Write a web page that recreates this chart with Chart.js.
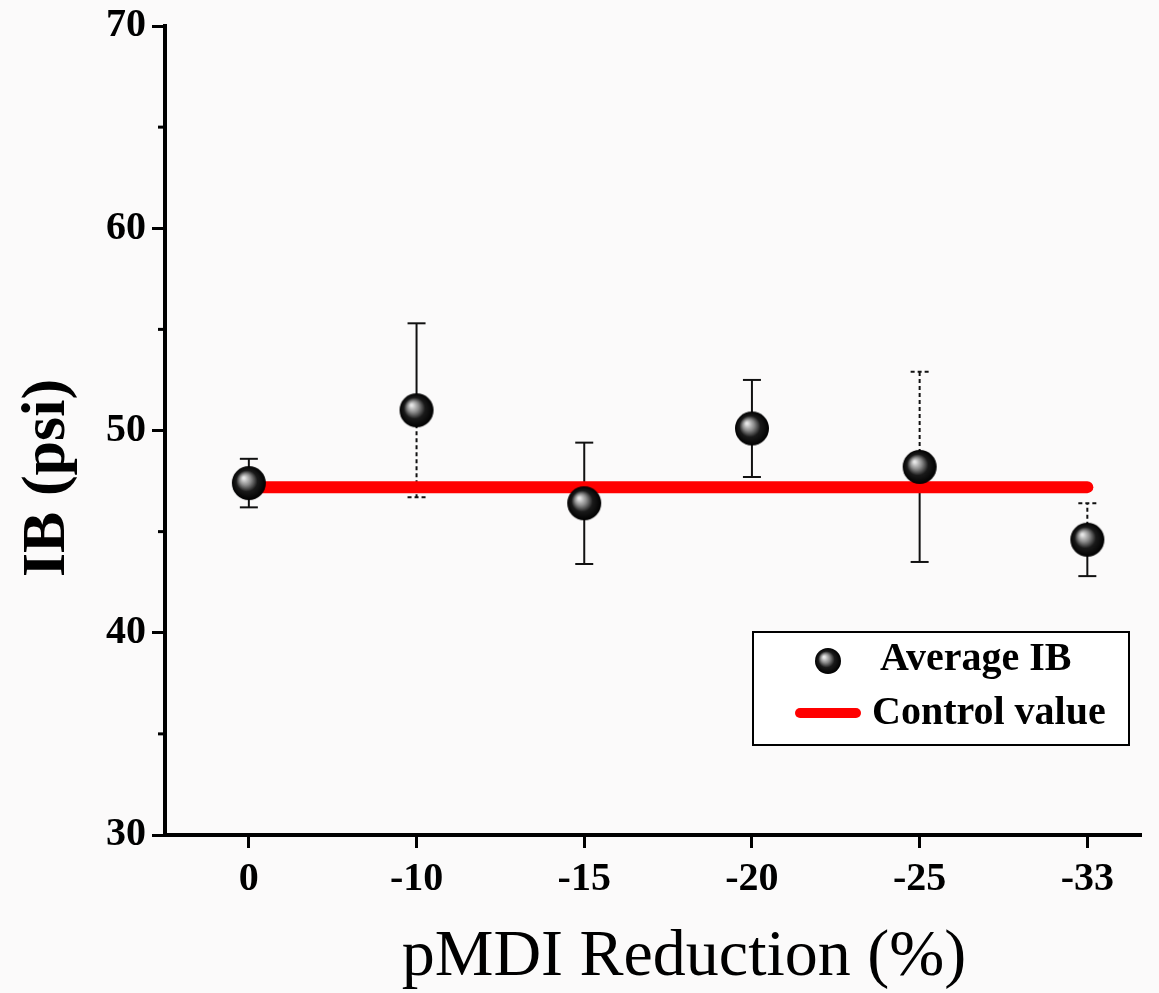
<!DOCTYPE html>
<html>
<head>
<meta charset="utf-8">
<script src="https://cdn.jsdelivr.net/npm/chart.js@4.4.0/dist/chart.umd.min.js"></script>
<style>
    html, body { margin: 0; padding: 0; background: #fbfafa; }
    #wrap { width: 1159px; height: 993px; position: relative; }
</style>
</head>
<body>
<div id="wrap"><canvas id="ibChart"></canvas></div>
<script>
// ==================== dati ====================
const categories = ['0', '-10', '-15', '-20', '-25', '-33'];
const averageIB = [47.4, 51.0, 46.4, 50.1, 48.2, 44.6];
const errorIB = [1.2, 4.3, 3.0, 2.4, 4.7, 1.8];
const controlValue = 47.2;
const yTickLabels = [30, 40, 50, 60, 70];
const xTitle = 'pMDI Reduction (%)';
const yTitle = 'IB (psi)';

// stile: lato della barra d'errore tratteggiato (come nell'originale)
const dashedSide = ['', 'down', '', '', 'up', 'up'];

const serif = "'Liberation Serif', 'DejaVu Serif', serif";

// marker sferico nero con riflesso
function makeBall(r) {
    const c = document.createElement('canvas');
    c.width = c.height = r * 2 + 2;
    const g = c.getContext('2d');
    const cx = r + 1, cy = r + 1;
    const grad = g.createRadialGradient(cx - r * 0.3, cy - r * 0.3, 1, cx, cy, r);
    grad.addColorStop(0, '#e6e6e6');
    grad.addColorStop(0.3, '#8a8a8a');
    grad.addColorStop(0.6, '#1a1a1a');
    grad.addColorStop(1, '#000000');
    g.fillStyle = grad;
    g.beginPath();
    g.arc(cx, cy, r, 0, Math.PI * 2);
    g.fill();
    return c;
}
const ball = makeBall(17);
const ballSmall = makeBall(13);

// barre d'errore disegnate sotto i dataset
const errorBars = {
    id: 'errorBars',
    beforeDatasetsDraw(chart) {
        const { ctx, scales: { x, y } } = chart;
        ctx.save();
        ctx.strokeStyle = '#111';
        ctx.lineWidth = 2;
        averageIB.forEach((v, i) => {
            const px = x.getPixelForValue(i);
            const yc = y.getPixelForValue(v);
            const yt = y.getPixelForValue(v + errorIB[i]);
            const yb = y.getPixelForValue(v - errorIB[i]);
            [['up', yt], ['down', yb]].forEach(([side, ye]) => {
                ctx.setLineDash(dashedSide[i] === side ? [4, 3] : []);
                ctx.beginPath();
                ctx.moveTo(px, yc);
                ctx.lineTo(px, ye);
                ctx.stroke();
                ctx.beginPath();
                ctx.moveTo(px - 9, ye);
                ctx.lineTo(px + 9, ye);
                ctx.stroke();
            });
        });
        ctx.restore();
    }
};

// tacche minori sull'asse y + titoli degli assi
const axisExtras = {
    id: 'axisExtras',
    afterDraw(chart) {
        const { ctx, scales: { y } } = chart;
        ctx.save();
        ctx.strokeStyle = '#000';
        ctx.lineWidth = 3;
        for (let v = 35; v < 70; v += 10) {
            const py = y.getPixelForValue(v);
            ctx.beginPath();
            ctx.moveTo(y.right - 7, py);
            ctx.lineTo(y.right, py);
            ctx.stroke();
        }
        ctx.fillStyle = '#000';
        ctx.textAlign = 'center';
        ctx.textBaseline = 'alphabetic';
        ctx.font = '66px ' + serif;
        ctx.fillText(xTitle, 684, 975);
        ctx.translate(64, 478);
        ctx.rotate(-Math.PI / 2);
        ctx.font = 'bold 62px ' + serif;
        ctx.fillText(yTitle, 0, 0);
        ctx.restore();
    }
};

// legenda interna con bordo
const legendBox = {
    id: 'legendBox',
    afterDraw(chart) {
        const ctx = chart.ctx;
        const bx = 753, by = 632, bw = 376, bh = 113;
        ctx.save();
        ctx.fillStyle = '#ffffff';
        ctx.fillRect(bx, by, bw, bh);
        ctx.strokeStyle = '#000';
        ctx.lineWidth = 2;
        ctx.strokeRect(bx, by, bw, bh);
        ctx.drawImage(ballSmall, 828 - 14, 661 - 14);
        ctx.strokeStyle = '#ff0000';
        ctx.lineWidth = 10;
        ctx.lineCap = 'round';
        ctx.beginPath();
        ctx.moveTo(800, 713);
        ctx.lineTo(856, 713);
        ctx.stroke();
        ctx.fillStyle = '#000';
        ctx.font = 'bold 40px ' + serif;
        ctx.textBaseline = 'middle';
        ctx.textAlign = 'left';
        ctx.fillText(chart.data.datasets[0].label, 880, 660);
        ctx.fillText(chart.data.datasets[1].label, 872, 714);
        ctx.restore();
    }
};

const ctx = document.getElementById('ibChart').getContext('2d');
new Chart(ctx, {
    type: 'scatter',
    data: {
        datasets: [{
            label: 'Average IB',
            data: averageIB.map((v, i) => ({ x: i, y: v })),
            pointStyle: ball,
            pointRadius: 17,
            order: 0
        }, {
            label: 'Control value',
            type: 'line',
            data: [{ x: 0, y: controlValue }, { x: categories.length - 1, y: controlValue }],
            borderColor: '#ff0000',
            borderWidth: 12,
            borderCapStyle: 'round',
            pointRadius: 0,
            order: 1
        }]
    },
    options: {
        responsive: true,
        maintainAspectRatio: false,
        animation: false,
        layout: { padding: { top: 25, right: 0, left: 0, bottom: 0 } },
        plugins: {
            legend: { display: false },
            tooltip: { enabled: false }
        },
        scales: {
            x: {
                type: 'linear',
                min: -0.5,
                max: 5.32,
                afterBuildTicks: (scale) => {
                    scale.ticks = categories.map((c, i) => ({ value: i }));
                },
                afterFit: (scale) => { scale.height = 158; },
                ticks: {
                    color: '#000',
                    padding: 8,
                    font: { family: serif, size: 40, weight: 'bold' },
                    callback: (v) => categories[v]
                },
                grid: {
                    drawOnChartArea: false,
                    tickLength: 13,
                    tickWidth: 3,
                    tickColor: '#000'
                },
                border: { display: true, color: '#000', width: 4 }
            },
            y: {
                min: 30,
                max: 70,
                afterBuildTicks: (scale) => {
                    scale.ticks = yTickLabels.map(v => ({ value: v }));
                },
                afterFit: (scale) => { scale.width = 165; },
                ticks: {
                    color: '#000',
                    padding: 6,
                    font: { family: serif, size: 40, weight: 'bold', lineHeight: 1 }
                },
                grid: {
                    drawOnChartArea: false,
                    tickLength: 13,
                    tickWidth: 3,
                    tickColor: '#000'
                },
                border: { display: true, color: '#000', width: 4 }
            }
        }
    },
    plugins: [errorBars, axisExtras, legendBox]
});
</script>
</body>
</html>
